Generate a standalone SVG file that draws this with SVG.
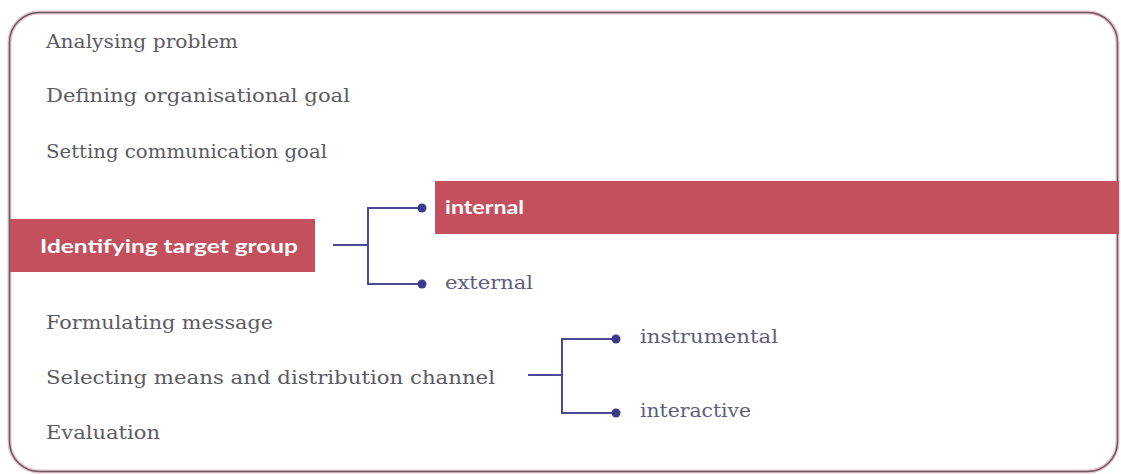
<svg xmlns="http://www.w3.org/2000/svg" width="1121" height="474" viewBox="0 0 1121 474">
  <style>
    .step { font-family: "DejaVu Serif", "Liberation Serif", serif; font-size: 18px; fill: #5b5b62; }
    .leaf { font-family: "DejaVu Serif", "Liberation Serif", serif; font-size: 18px; fill: #5e5e7e; }
    .hl { font-family: Lato, "Liberation Sans", sans-serif; font-weight: bold; font-size: 19px; fill: #ffffff; }
    .band { fill: #c4505d; }
    .wire { fill: none; stroke: #4b4898; stroke-width: 2; }
    .dot { fill: #3d3a8e; }
  </style>

  <rect width="1121" height="474" fill="#ffffff"/>

  <!-- frame -->
  <rect x="9.5" y="12.5" width="1108" height="459" rx="30" fill="none" stroke="#e9c3cc" stroke-width="4"/>
  <rect x="9.5" y="12.5" width="1108" height="459" rx="30" fill="none" stroke="#6b5c63" stroke-width="1.5"/>

  <g id="analysing">
    <text class="step" x="46" y="48" textLength="192" lengthAdjust="spacingAndGlyphs">Analysing problem</text>
  </g>
  <g id="defining">
    <text class="step" x="46" y="102" textLength="304" lengthAdjust="spacingAndGlyphs">Defining organisational goal</text>
  </g>
  <g id="setting">
    <text class="step" x="46" y="158" textLength="281" lengthAdjust="spacingAndGlyphs">Setting communication goal</text>
  </g>

  <g id="target-group">
    <rect class="band" x="10" y="219" width="305" height="53"/>
    <text class="hl" x="40" y="253" textLength="258" lengthAdjust="spacingAndGlyphs">Identifying target group</text>
  </g>
  <g id="internal">
    <rect class="band" x="435" y="181" width="684" height="53"/>
    <text class="hl" x="445" y="214" textLength="79" lengthAdjust="spacingAndGlyphs">internal</text>
  </g>
  <g id="external">
    <text class="leaf" x="445" y="289" textLength="88" lengthAdjust="spacingAndGlyphs">external</text>
  </g>

  <g id="formulating">
    <text class="step" x="46" y="329" textLength="227" lengthAdjust="spacingAndGlyphs">Formulating message</text>
  </g>
  <g id="selecting">
    <text class="step" x="46" y="384" textLength="449" lengthAdjust="spacingAndGlyphs">Selecting means and distribution channel</text>
  </g>
  <g id="evaluation">
    <text class="step" x="46" y="439" textLength="114" lengthAdjust="spacingAndGlyphs">Evaluation</text>
  </g>

  <g id="instrumental">
    <text class="leaf" x="640" y="343" textLength="138" lengthAdjust="spacingAndGlyphs">instrumental</text>
  </g>
  <g id="interactive">
    <text class="leaf" x="640" y="417" textLength="111" lengthAdjust="spacingAndGlyphs">interactive</text>
  </g>

  <g id="connectors">
    <path class="wire" d="M333 245 H368 M422 208 H368 V284 H422"/>
    <circle class="dot" cx="422" cy="208" r="4.5"/>
    <circle class="dot" cx="422" cy="284" r="4.5"/>
    <path class="wire" d="M528 375 H562 M616 339 H562 V413 H616"/>
    <circle class="dot" cx="616" cy="339" r="4.5"/>
    <circle class="dot" cx="616" cy="413" r="4.5"/>
  </g>
</svg>
